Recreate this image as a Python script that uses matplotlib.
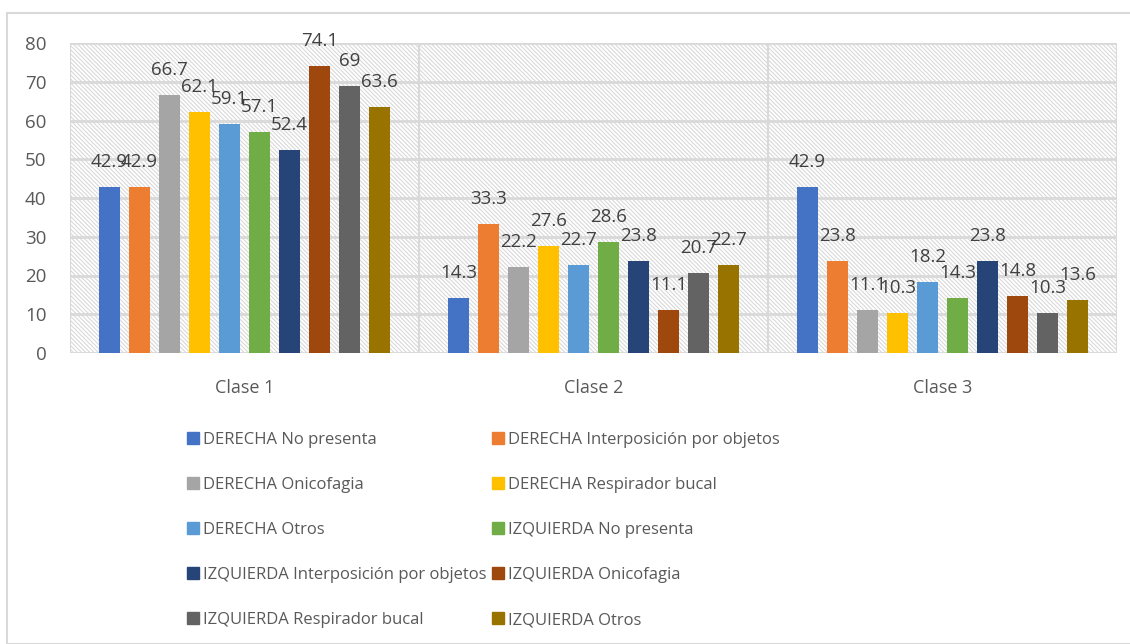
import matplotlib.pyplot as plt
from matplotlib.patches import Rectangle
from matplotlib.lines import Line2D
import numpy as np

plt.rcParams['font.family'] = ['Open Sans', 'DejaVu Sans']
plt.rcParams['hatch.linewidth'] = 0.8

clases = ['Clase 1', 'Clase 2', 'Clase 3']
series = ['DERECHA No presenta', 'DERECHA Interposición por objetos',
          'DERECHA Onicofagia', 'DERECHA Respirador bucal',
          'DERECHA Otros', 'IZQUIERDA No presenta',
          'IZQUIERDA Interposición por objetos', 'IZQUIERDA Onicofagia',
          'IZQUIERDA Respirador bucal', 'IZQUIERDA Otros']
der_no = [42.9, 14.3, 42.9]
der_inter = [42.9, 33.3, 23.8]
der_onico = [66.7, 22.2, 11.1]
der_resp = [62.1, 27.6, 10.3]
der_otros = [59.1, 22.7, 18.2]
izq_no = [57.1, 28.6, 14.3]
izq_inter = [52.4, 23.8, 23.8]
izq_onico = [74.1, 11.1, 14.8]
izq_resp = [69, 20.7, 10.3]
izq_otros = [63.6, 22.7, 13.6]
valores = [der_no, der_inter, der_onico, der_resp, der_otros,
           izq_no, izq_inter, izq_onico, izq_resp, izq_otros]
colores = ['#4472C4', '#ED7D31', '#A5A5A5', '#FFC000', '#5B9BD5',
           '#70AD47', '#264478', '#9E480E', '#636363', '#997300']

texto = '#595959'
fig = plt.figure(figsize=(11.3, 6.44), dpi=100)
# marco exterior del grafico
fig.patches.append(Rectangle((7 / 1130, 0), 1, 1 - 13 / 644, transform=fig.transFigure,
                             fill=False, edgecolor='#D9D9D9', linewidth=1.5))
ax = fig.add_axes([70 / 1130, 1 - 353 / 644, 1047 / 1130, 310 / 644])

# fondo rayado
ax.add_patch(Rectangle((0, 0), 1, 1, transform=ax.transAxes, facecolor='white',
                       edgecolor='#D9D9D9', hatch='\\' * 8, linewidth=0, zorder=0))

x = np.arange(len(clases))
paso = 0.086
ancho = 0.06
for i, (vals, col) in enumerate(zip(valores, colores)):
    pos = x + (i - 4.5) * paso
    ax.bar(pos, vals, width=ancho, color=col, label=series[i], zorder=3)
    for p, v in zip(pos, vals):
        ax.annotate(f'{v:g}', (p, v), xytext=(0, 18), textcoords='offset points',
                    ha='center', va='center', fontsize=13.5, color='#404040', zorder=4)

ax.set_xlim(-0.5, 2.5)
ax.set_ylim(0, 80)
ax.set_yticks(range(0, 81, 10))
ax.set_xticks(x)
ax.set_xticklabels(clases)
for xv in [-0.5, 0.5, 1.5, 2.5]:
    ax.axvline(xv, color='#D9D9D9', linewidth=1.5, zorder=1)
ax.grid(axis='y', color='#D9D9D9', linewidth=2, zorder=1)
ax.set_axisbelow(True)
for s in ax.spines.values():
    s.set_visible(False)
ax.tick_params(axis='both', length=0, colors=texto, labelsize=13.5)
ax.tick_params(axis='x', pad=19, labelsize=13)
ax.tick_params(axis='y', pad=17)

# leyenda por filas: reordenar para ncol=2
orden = [0, 2, 4, 6, 8, 1, 3, 5, 7, 9]
handles = [Line2D([], [], marker='s', linestyle='', markersize=9,
                  markerfacecolor=colores[k], markeredgecolor=colores[k]) for k in orden]
fig.legend(handles, [series[k] for k in orden], ncol=2, loc='upper left',
           bbox_to_anchor=(178 / 1130, 1 - 425 / 644),
           frameon=False, fontsize=12, labelcolor=texto, handletextpad=0.1,
           columnspacing=0.2, labelspacing=1.75, handlelength=1.0, borderaxespad=0)

fig.savefig('out.png', dpi=100)
